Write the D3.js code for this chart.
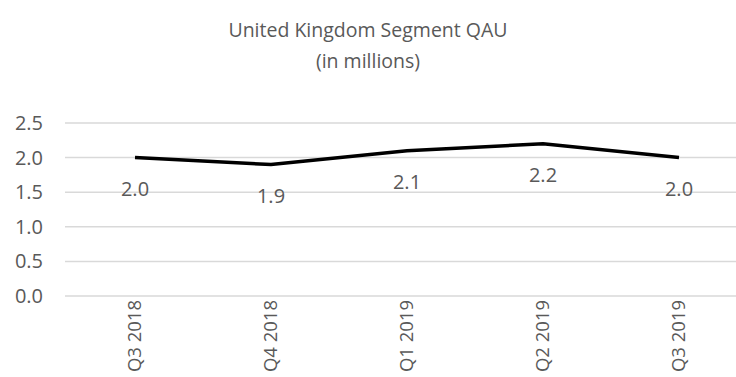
<!DOCTYPE html>
<html lang="en">
<head>
  <meta charset="UTF-8" />
  <title>United Kingdom Segment QAU</title>
  <script src="https://d3js.org/d3.v7.min.js"></script>
  <style>
    body {
      margin: 0;
      background: #fff;
    }
    svg text {
      font-family: "Open Sans", sans-serif;
      fill: #595959;
    }
    .grid line {
      stroke: #d9d9d9;
      stroke-width: 1.5;
    }
    .line {
      fill: none;
      stroke: #000;
      stroke-width: 3.5;
    }
  </style>
</head>
<body>

<svg width="736" height="377"></svg>

<script>
  const quarters = ["Q3 2018", "Q4 2018", "Q1 2019", "Q2 2019", "Q3 2019"];
  const qau = [2.0, 1.9, 2.1, 2.2, 2.0];
  const yTicks = [0, 0.5, 1.0, 1.5, 2.0, 2.5];

  const data = quarters.map((q, i) => ({quarter: q, value: qau[i]}));

  const svg = d3.select("svg");

  const x = d3.scalePoint()
    .domain(quarters)
    .range([135, 679]);

  const y = d3.scaleLinear()
    .domain([0, 2.5])
    .range([296, 123]);

  // title
  svg.append("text")
    .attr("x", 368).attr("y", 37)
    .attr("text-anchor", "middle")
    .style("font-size", "19.5px")
    .text("United Kingdom Segment QAU");
  svg.append("text")
    .attr("x", 368).attr("y", 68)
    .attr("text-anchor", "middle")
    .style("font-size", "19.5px")
    .text("(in millions)");

  // gridlines
  svg.append("g")
    .attr("class", "grid")
    .selectAll("line")
    .data(yTicks)
    .join("line")
    .attr("x1", 65).attr("x2", 736)
    .attr("y1", d => y(d)).attr("y2", d => y(d));

  // y axis labels
  svg.append("g")
    .selectAll("text")
    .data(yTicks)
    .join("text")
    .attr("x", 43)
    .attr("y", d => y(d))
    .attr("dy", "0.35em")
    .attr("text-anchor", "end")
    .style("font-size", "20px")
    .text(d => d3.format(".1f")(d));

  // x axis labels, rotated
  svg.append("g")
    .selectAll("text")
    .data(quarters)
    .join("text")
    .attr("transform", d => `translate(${x(d)},300) rotate(-90)`)
    .attr("dy", "0.35em")
    .attr("text-anchor", "end")
    .style("font-size", "18.5px")
    .text(d => d);

  const line = d3.line()
    .x(d => x(d.quarter))
    .y(d => y(d.value));

  svg.append("path")
    .datum(data)
    .attr("class", "line")
    .attr("d", line);

  // data labels
  svg.append("g")
    .selectAll("text")
    .data(data)
    .join("text")
    .attr("x", d => x(d.quarter))
    .attr("y", d => y(d.value) + 31)
    .attr("dy", "0.35em")
    .attr("text-anchor", "middle")
    .style("font-size", "20px")
    .text(d => d3.format(".1f")(d.value));
</script>

</body>
</html>
